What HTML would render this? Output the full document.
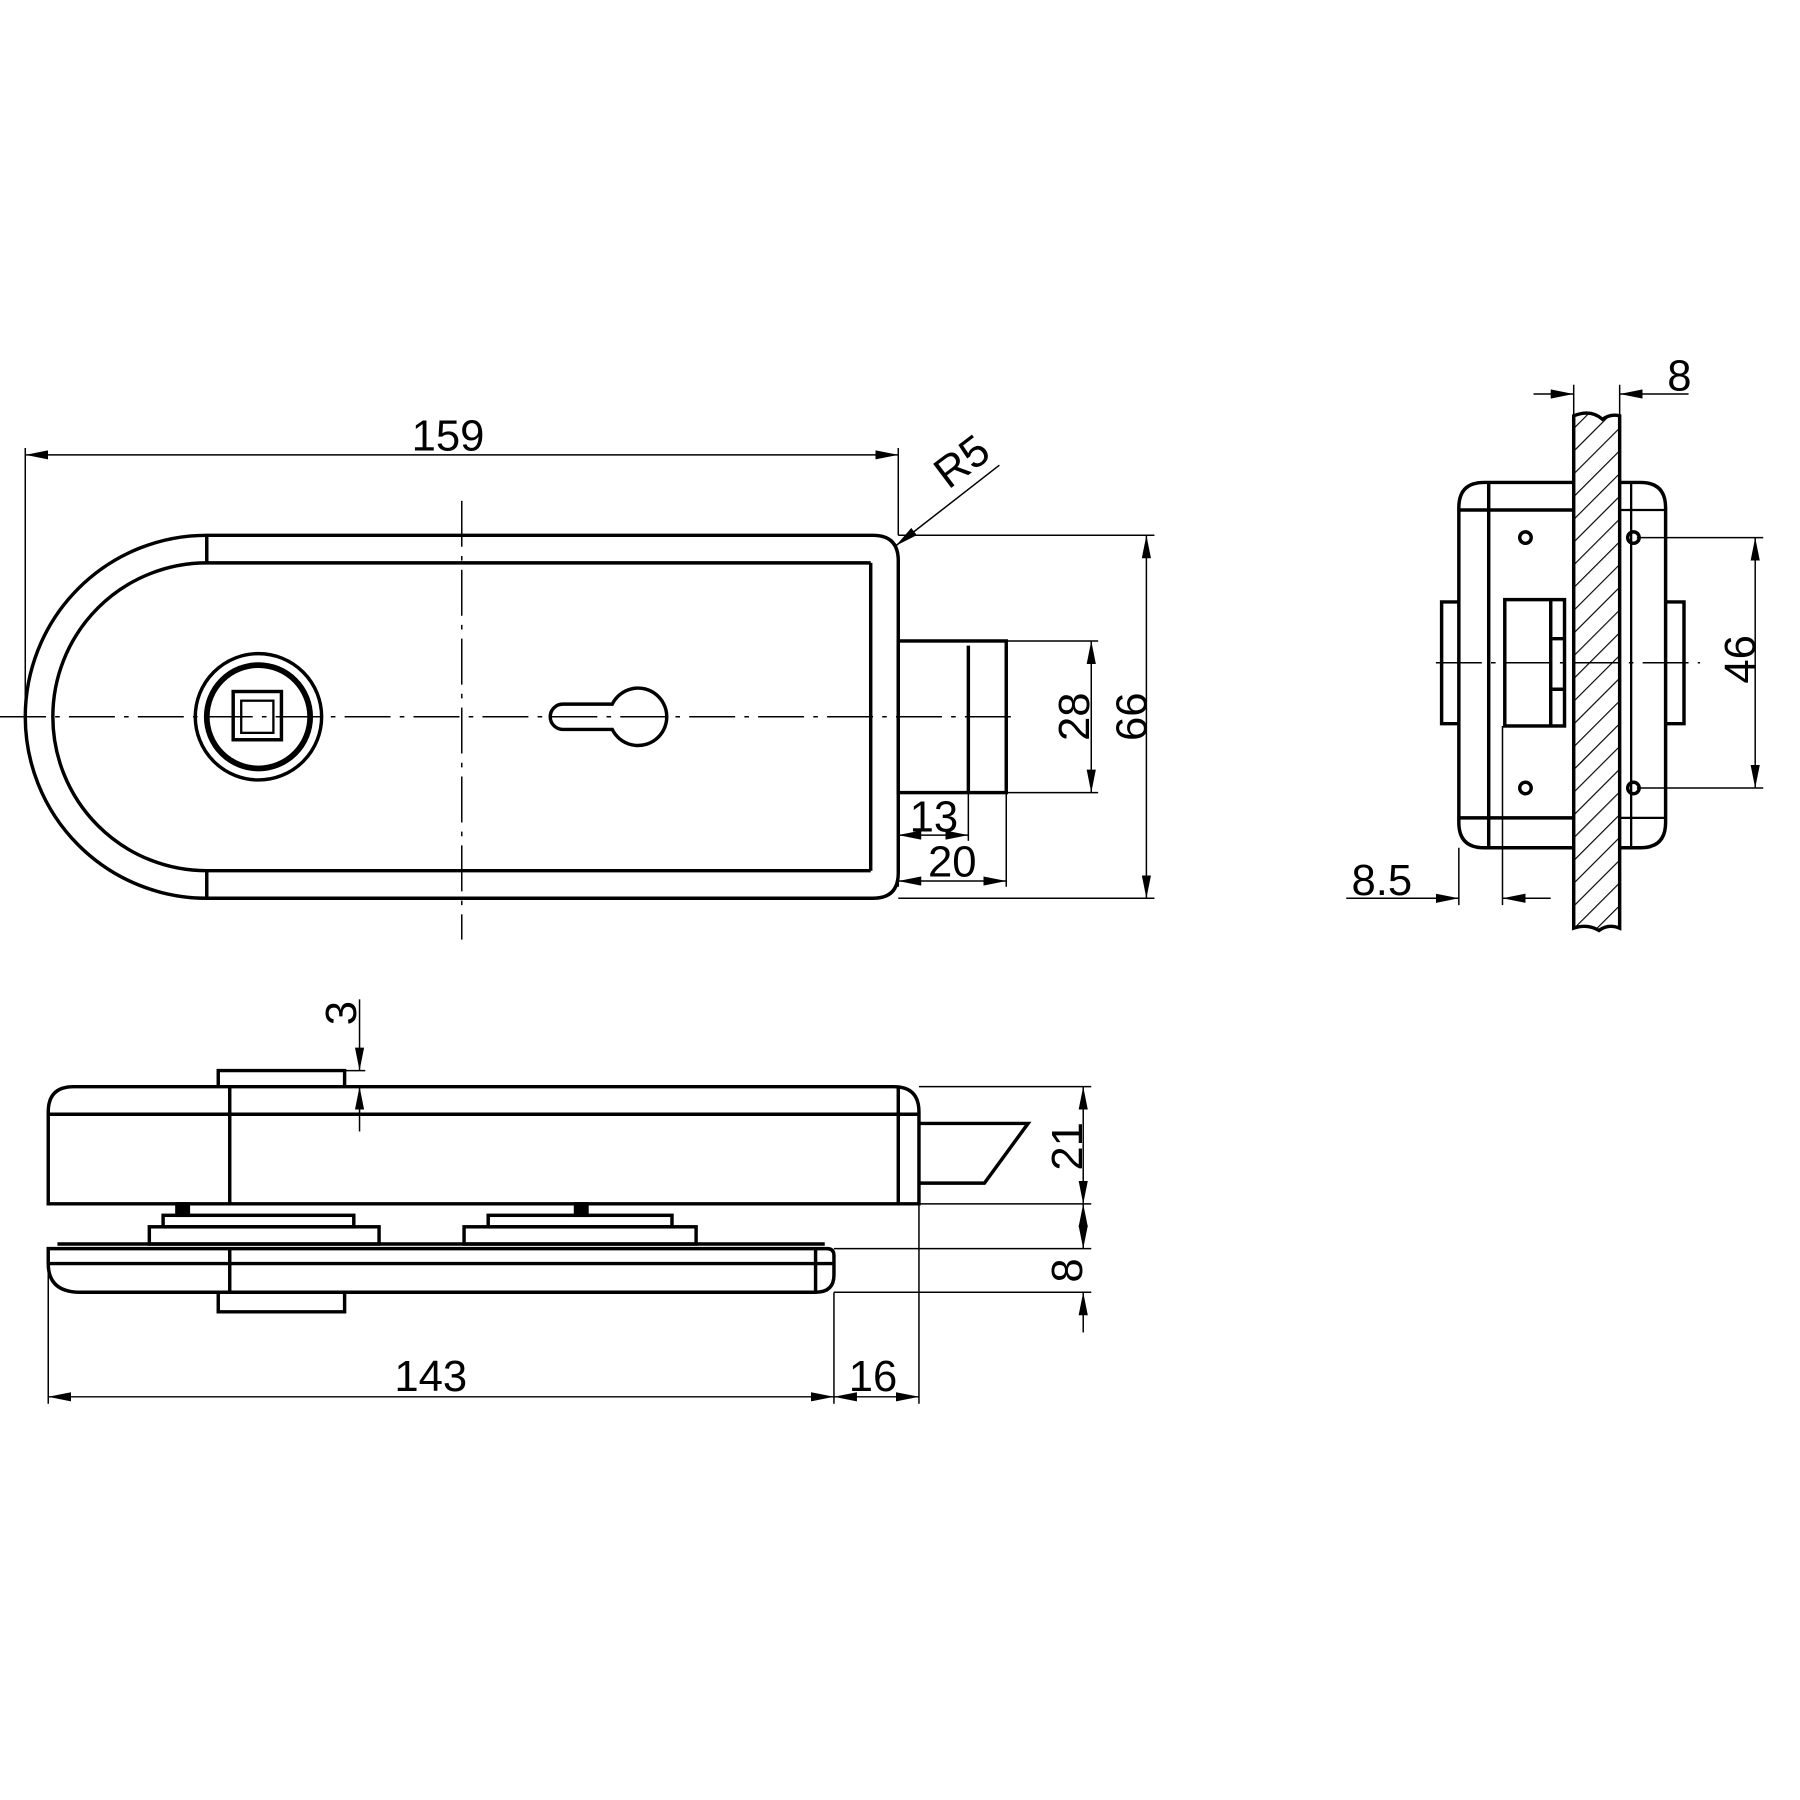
<!DOCTYPE html>
<html><head><style>html,body{margin:0;padding:0;background:#fff}svg{display:block}</style></head>
<body>
<svg width="1800" height="1800" viewBox="0 0 1567 1567" xmlns="http://www.w3.org/2000/svg" font-family="Liberation Sans, sans-serif" font-size="38">
<defs>
<marker id="a" viewBox="0 0 20 8" refX="20" refY="4" markerWidth="20" markerHeight="8" markerUnits="userSpaceOnUse" orient="auto-start-reverse"><path d="M0,0 L20,4 L0,8z" fill="#000"/></marker>
<pattern id="h" width="14" height="14" patternUnits="userSpaceOnUse" patternTransform="rotate(45)"><line x1="0" y1="0" x2="0" y2="14" stroke="#000" stroke-width="2"/></pattern>
</defs>
<g fill="none" stroke="#000" stroke-width="3">
<path d="M180,466 L760,466 Q782,466 782,488 L782,760 Q782,782 760,782 L180,782 A158,158 0 0 1 180,466Z"/>
<path d="M180,490 L758,490 M180,758 L758,758 M180,490 A134,134 0 0 0 180,758"/>
<path d="M180,466 V490 M180,758 V782 M758,490 V758"/>
<rect x="782" y="558" width="94" height="132"/>
<line x1="843" y1="562" x2="843" y2="690"/>
<circle cx="225" cy="624" r="55"/>
<circle cx="225" cy="624" r="45" stroke-width="5"/>
<rect x="203" y="602" width="42" height="42"/>
<rect x="210" y="610" width="28" height="28" stroke-width="2"/>
<path d="M533,613 L490,613 A11,11 0 0 0 490,635 L533,635 A25,25 0 1 0 533,613Z"/>
<path d="M1370,420 L1292,420 Q1270,420 1270,442 L1270,716 Q1270,738 1292,738 L1370,738"/>
<path d="M1296,420 V738 M1270,444 H1370 M1270,712 H1370"/>
<rect x="1310" y="522" width="52" height="110"/>
<path d="M1350,522 V632 M1350,556 H1362 M1350,600 H1362"/>
<path d="M1270,524 H1255 V630 H1270"/>
<path d="M1410,420 L1428,420 Q1450,420 1450,442 L1450,716 Q1450,738 1428,738 L1410,738"/>
<path d="M1420,420 V738 M1410,444 H1450 M1410,712 H1450" stroke-width="2"/>
<path d="M1450,524 H1466 V630 H1450"/>
<circle cx="1328" cy="468" r="5"/><circle cx="1328" cy="686" r="5"/>
<circle cx="1422" cy="468" r="5"/><circle cx="1422" cy="686" r="5"/>
<path d="M1370,362 Q1385,356 1395,365 Q1402,360 1410,362 L1410,808 Q1400,804 1392,810 Q1382,804 1370,808Z" fill="url(#h)"/>
<path d="M42,1048 L42,968 Q42,946 64,946 L778,946 Q800,946 800,968 L800,1048Z"/>
<path d="M42,970 H800 M200,946 V1048 M782,946 V1048"/>
<path d="M190,946 V932 H300 V946"/>
<path d="M800,978 H895 L857,1030 H800"/>
<rect x="130" y="1068" width="200" height="15"/><rect x="142" y="1058" width="166" height="10"/>
<rect x="404" y="1068" width="202" height="15"/><rect x="425" y="1058" width="160" height="10"/>
<rect x="154" y="1048" width="10" height="10" fill="#000"/><rect x="501" y="1048" width="10" height="10" fill="#000"/>
<path d="M50,1083 H718"/>
<path d="M42,1087 L720,1087 Q726,1087 726,1093 L726,1110 Q726,1125 710,1125 L70,1125 Q42,1125 42,1100Z"/>
<path d="M42,1100 H726 M200,1087 V1125 M710,1087 V1125"/>
<path d="M190,1125 V1142 H300 V1125"/>
</g>
<g fill="none" stroke="#000" stroke-width="1.3">
<path d="M0,624 H880 M1250,577 H1480" stroke-dasharray="40,8,4,8"/>
<path d="M402,436 V818" stroke-dasharray="40,8,4,8"/>
<path d="M22,390 V624 M782,390 V466"/>
<line x1="22" y1="396" x2="782" y2="396" marker-start="url(#a)" marker-end="url(#a)"/>
<line x1="870" y1="405" x2="780" y2="475" marker-end="url(#a)"/>
<path d="M782,466 H1005 M782,782 H1005 M876,558 H956 M876,690 H956"/>
<line x1="998" y1="466" x2="998" y2="782" marker-start="url(#a)" marker-end="url(#a)"/>
<line x1="950" y1="558" x2="950" y2="690" marker-start="url(#a)" marker-end="url(#a)"/>
<path d="M843,690 V732 M876,690 V772 M782,690 V772"/>
<line x1="782" y1="727" x2="843" y2="727" marker-start="url(#a)" marker-end="url(#a)"/>
<line x1="782" y1="767" x2="876" y2="767" marker-start="url(#a)" marker-end="url(#a)"/>
<path d="M1370,335 V362 M1410,335 V362"/>
<line x1="1335" y1="343" x2="1370" y2="343" marker-end="url(#a)"/>
<line x1="1470" y1="343" x2="1410" y2="343" marker-end="url(#a)"/>
<path d="M1425,468 H1535 M1425,686 H1535"/>
<line x1="1528" y1="468" x2="1528" y2="686" marker-start="url(#a)" marker-end="url(#a)"/>
<path d="M1270,738 V788 M1308,632 V788"/>
<line x1="1172" y1="782" x2="1270" y2="782" marker-end="url(#a)"/>
<line x1="1350" y1="782" x2="1308" y2="782" marker-end="url(#a)"/>
<line x1="313" y1="870" x2="313" y2="932" marker-end="url(#a)"/>
<line x1="313" y1="985" x2="313" y2="946" marker-end="url(#a)"/>
<path d="M300,932 H318 M800,946 H950 M800,1048 H950 M726,1087 H950 M726,1125 H950"/>
<line x1="943" y1="946" x2="943" y2="1048" marker-start="url(#a)" marker-end="url(#a)"/>
<line x1="943" y1="1048" x2="943" y2="1087" marker-start="url(#a)" marker-end="url(#a)"/>
<line x1="943" y1="1160" x2="943" y2="1125" marker-end="url(#a)"/>
<path d="M42,1100 V1222 M726,1125 V1222 M800,1048 V1222"/>
<line x1="42" y1="1216" x2="726" y2="1216" marker-start="url(#a)" marker-end="url(#a)"/>
<line x1="726" y1="1216" x2="800" y2="1216" marker-start="url(#a)" marker-end="url(#a)"/>
</g>
<g fill="#000" text-anchor="middle">
<text x="390" y="392">159</text>
<text transform="translate(845,412) rotate(-37)">R5</text>
<text transform="translate(998,624) rotate(-90)">66</text>
<text transform="translate(948,624) rotate(-90)">28</text>
<text x="813" y="724">13</text>
<text x="829" y="763">20</text>
<text x="1462" y="340">8</text>
<text transform="translate(1528,574) rotate(-90)">46</text>
<text x="1203" y="779">8.5</text>
<text transform="translate(310,882) rotate(-90)">3</text>
<text transform="translate(942,998) rotate(-90)">21</text>
<text transform="translate(942,1106) rotate(-90)">8</text>
<text x="375" y="1211">143</text>
<text x="760" y="1211">16</text>
</g>
</svg>
</body></html>
